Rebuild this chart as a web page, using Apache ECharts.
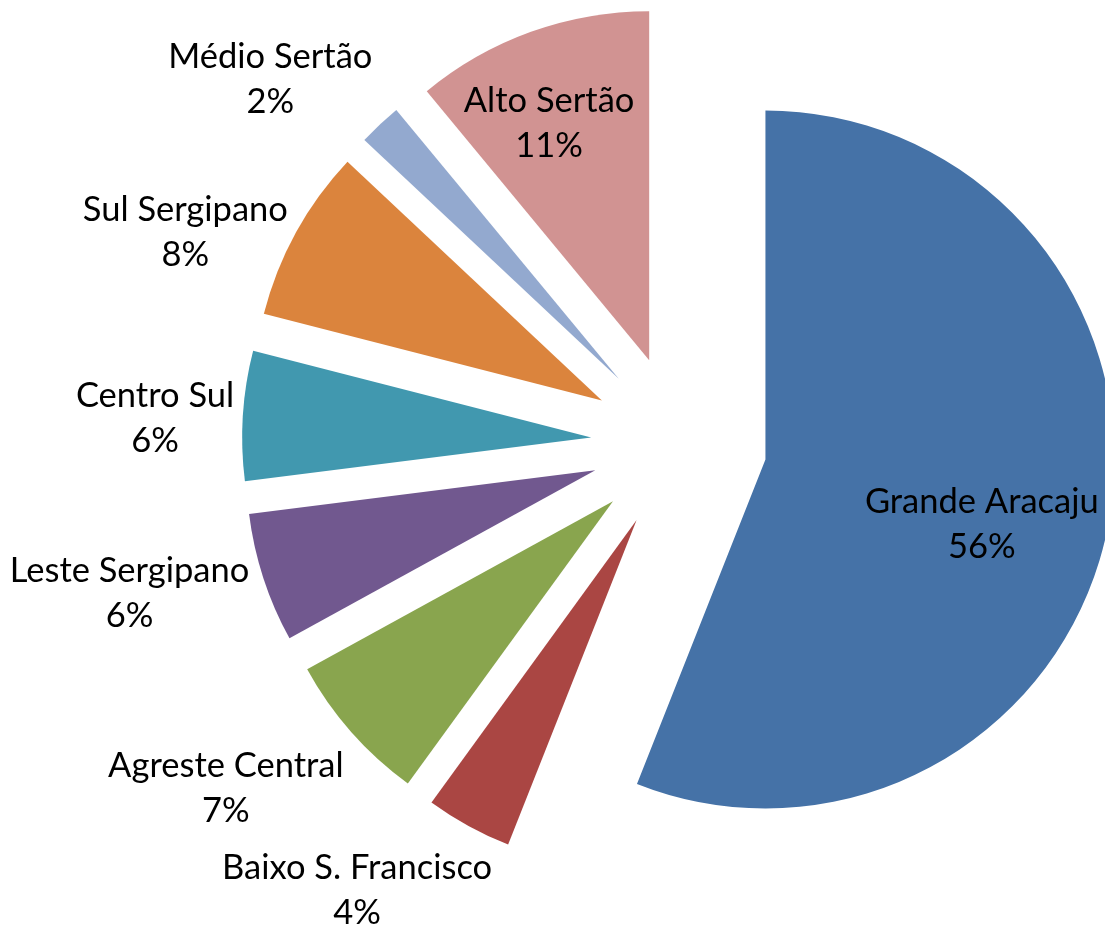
<!DOCTYPE html>
<html>
<head>
<meta charset="utf-8">
<script src="https://cdn.jsdelivr.net/npm/echarts@6/dist/echarts.min.js"></script>
<style>
  html, body { margin: 0; padding: 0; background: #fff; }
  #chart { width: 1105px; height: 925px; }
</style>
</head>
<body>
<div id="chart"></div>
<script>
// clockwise from 12 o'clock
const regions = [
  "Grande Aracaju",
  "Baixo S. Francisco",
  "Agreste Central",
  "Leste Sergipano",
  "Centro Sul",
  "Sul Sergipano",
  "Médio Sertão",
  "Alto Sertão",
];
const shares = [56, 4, 7, 6, 6, 8, 2, 11];

const colors = ["#4572A7", "#AA4643", "#89A54E", "#71588F", "#4198AF", "#DB843D", "#93A9CF", "#D19392"];

// shift of each label from its default (inside) spot, px
const labelOffsets = [
  [42, 32],
  [-194, 215],
  [-254, 170],
  [-297, 68],
  [-259, -8],
  [-261, -83],
  [-227, -170],
  [-40, -70],
];

// a centred label moves by half of the padding difference
function shiftPadding(o) {
  return [
    Math.max(0, 2 * o[1]),
    Math.max(0, -2 * o[0]),
    Math.max(0, -2 * o[1]),
    Math.max(0, 2 * o[0]),
  ];
}

const chart = echarts.init(document.getElementById("chart"));

const font = "Lato, 'Open Sans', sans-serif";

chart.setOption({
  backgroundColor: "#fff",
  animation: false,
  series: [
    {
      type: "pie",
      center: [679, 443],
      radius: 349,
      startAngle: 90,
      clockwise: true,
      selectedMode: "multiple",
      selectedOffset: 88,
      avoidLabelOverlap: false,
      emphasis: { disabled: true },
      labelLine: { show: false },
      label: {
        show: true,
        position: "inside",
        formatter: "{n|{b}}\n{n|{c}%}",
        rich: {
          n: {
            align: "center",
            fontFamily: font,
            fontSize: 34.5,
            lineHeight: 45,
            color: "#000",
          },
        },
      },
      data: regions.map((name, i) => ({
        name: name,
        value: shares[i],
        selected: true,
        itemStyle: { color: colors[i] },
        label: { padding: shiftPadding(labelOffsets[i]) },
      })),
    },
  ],
});
</script>
</body>
</html>
